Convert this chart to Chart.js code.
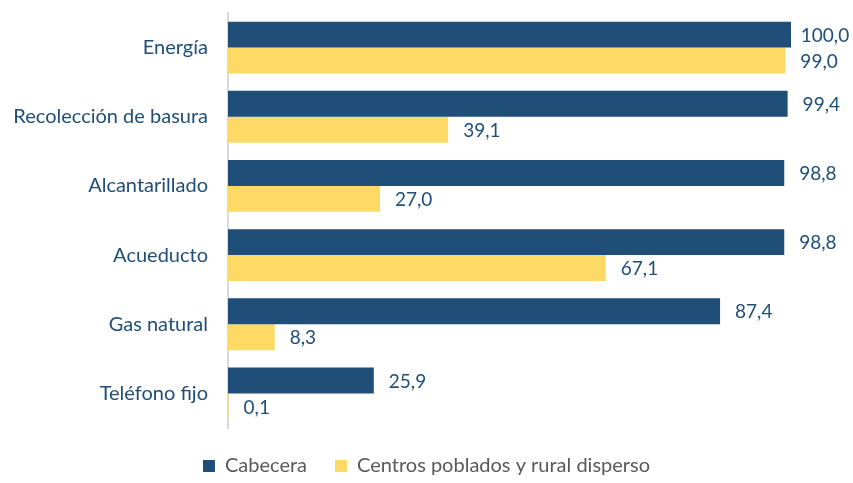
<!DOCTYPE html>
<html><head><meta charset="utf-8">
<script src="https://cdn.jsdelivr.net/npm/chart.js@4/dist/chart.umd.min.js"></script>
<style>html,body{margin:0;padding:0;background:#fff}#wrap{width:853px;height:483px}</style>
</head><body><div id="wrap"><canvas id="c" width="853" height="483"></canvas></div>
<script>
const categories = ["Energía","Recolección de basura","Alcantarillado","Acueducto","Gas natural","Teléfono fijo"];
const cabecera = [100.0, 99.4, 98.8, 98.8, 87.4, 25.9];
const centros = [99.0, 39.1, 27.0, 67.1, 8.3, 0.1];
const seriesNames = ["Cabecera","Centros poblados y rural disperso"];
const FONT = "Lato";

const labelPlugin = {
  id: 'vals',
  afterInit(chart) {
    const lg = chart.legend;
    if (lg) {
      const f = lg.fit.bind(lg);
      lg.fit = function () { f(); this.height = 55; };
    }
  },
  afterLayout(chart) {
    const lg = chart.legend;
    if (lg) { lg.left = 0; lg.right = chart.width; lg.width = chart.width; }
  },
  afterDatasetsDraw(chart) {
    const ctx = chart.ctx;
    ctx.save();
    ctx.font = "19px " + FONT;
    ctx.fillStyle = "#1F4E79";
    ctx.textBaseline = "middle";
    ctx.textAlign = "left";
    chart.data.datasets.forEach((ds, di) => {
      chart.getDatasetMeta(di).data.forEach((el, i) => {
        const txt = ds.data[i].toFixed(1).replace('.', ',');
        const w = ctx.measureText(txt).width;
        ctx.fillText(txt, el.x + Math.min(15, 34 - w / 2), el.y + 1);
      });
    });
    ctx.restore();
  }
};

new Chart(document.getElementById('c'), {
  type: 'bar',
  data: {
    labels: categories,
    datasets: [
      {label: seriesNames[0], data: cabecera, backgroundColor: '#1F4E79', categoryPercentage: 0.75, barPercentage: 1},
      {label: seriesNames[1], data: centros, backgroundColor: '#FFD966', categoryPercentage: 0.75, barPercentage: 1}
    ]
  },
  options: {
    indexAxis: 'y',
    responsive: false,
    animation: false,
    layout: {padding: {top: 13, right: 62, left: 0, bottom: 0}},
    scales: {
      x: {display: false, min: 0, max: 100},
      y: {
        afterFit(s) { s.width = 228; s.paddingTop = 0; s.paddingBottom = 0; },
        grid: {display: false, drawTicks: false},
        border: {display: true, color: '#D9D9D9', width: 2},
        ticks: {color: '#1F4E79', font: {family: FONT, size: 20}, padding: 20}
      }
    },
    plugins: {
      legend: {
        position: 'bottom',
        labels: {color: '#595959', font: {family: FONT, size: 20}, boxWidth: 12, boxHeight: 12, padding: 28}
      },
      tooltip: {enabled: false}
    }
  },
  plugins: [labelPlugin]
});
</script></body></html>
